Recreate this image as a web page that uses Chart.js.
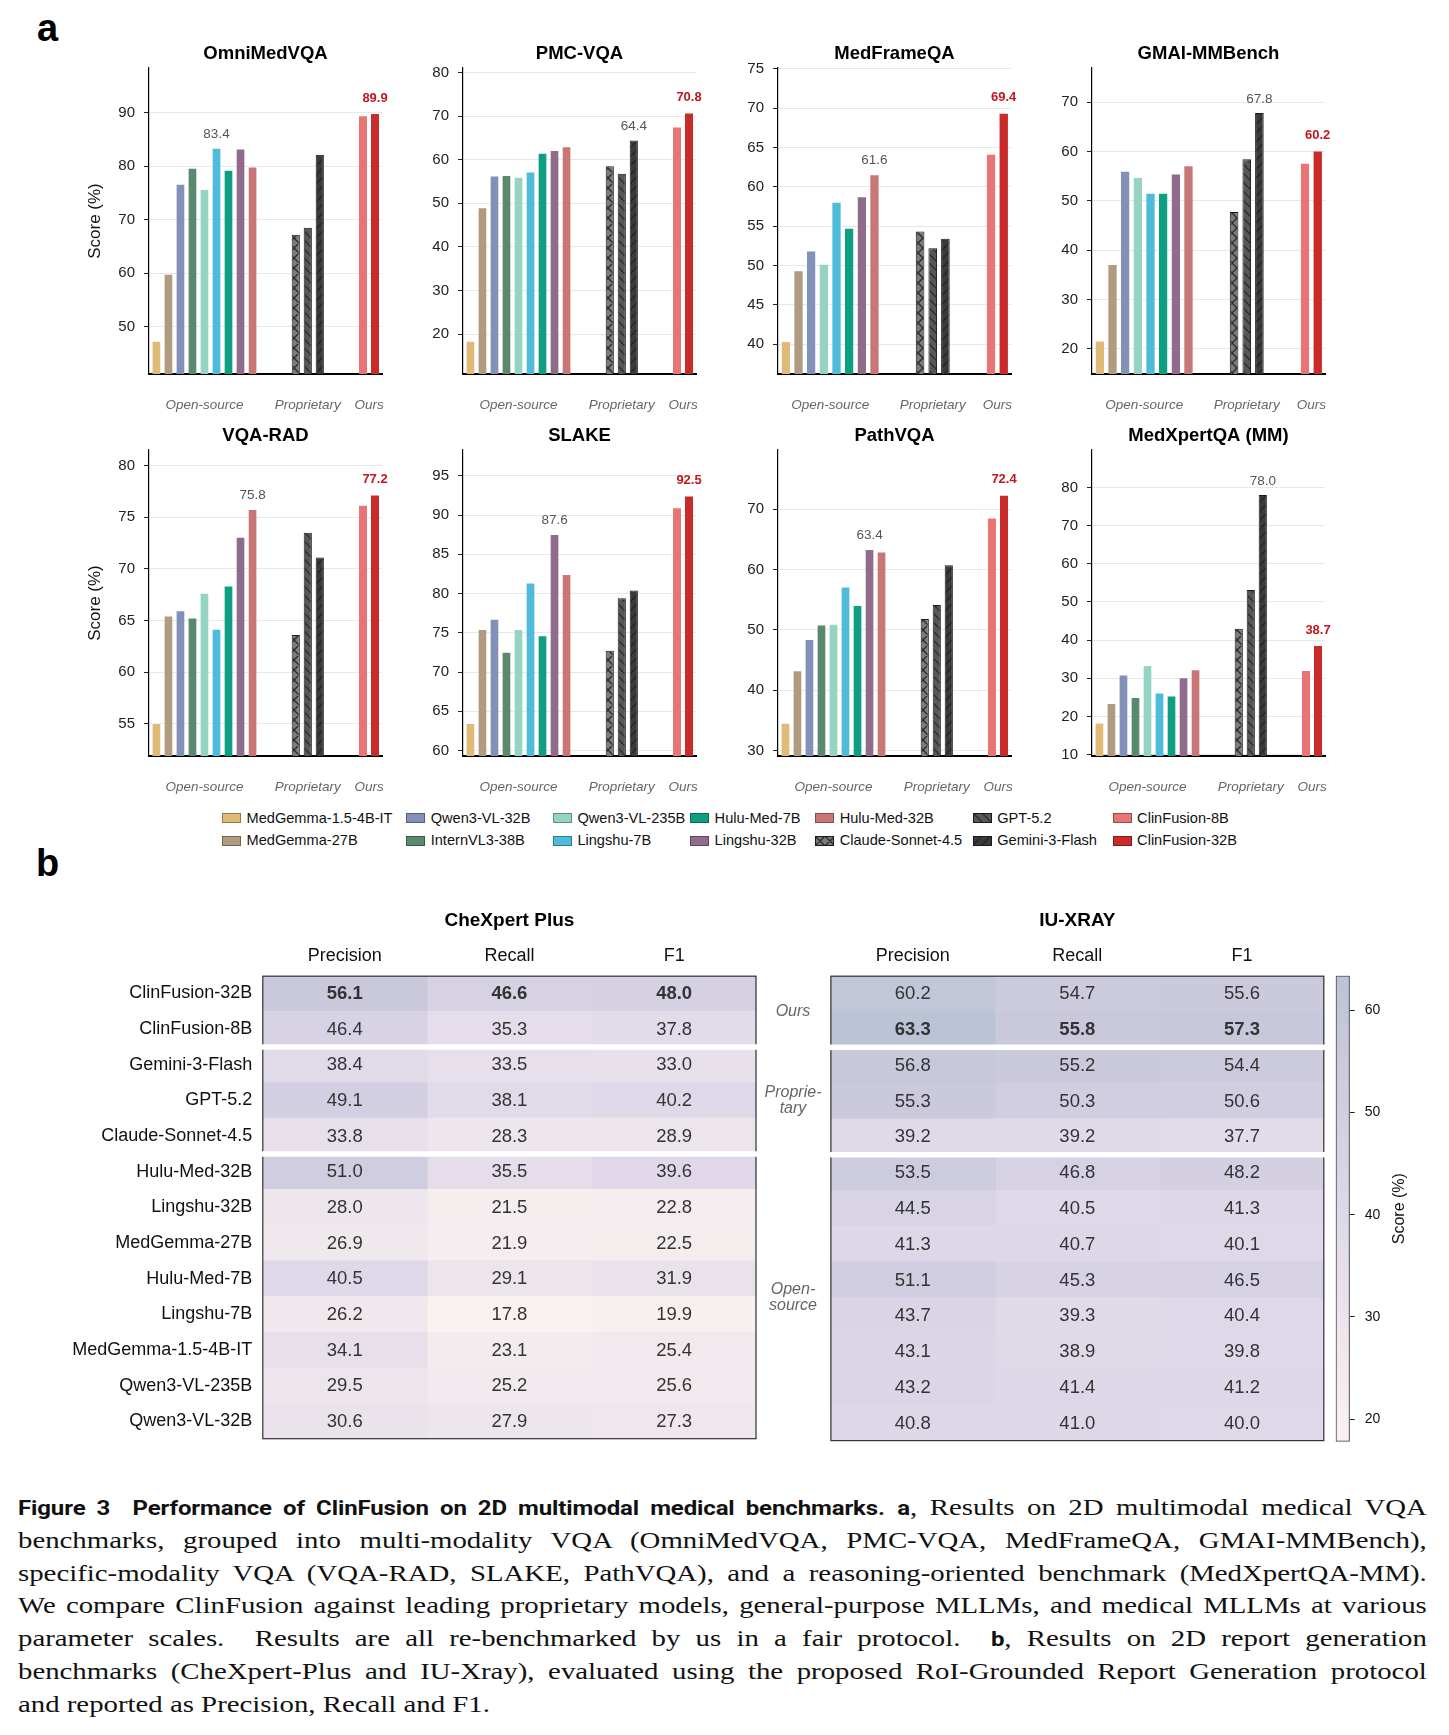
<!DOCTYPE html>
<html><head><meta charset="utf-8">
<script src="https://cdn.jsdelivr.net/npm/chart.js@4.4.1/dist/chart.umd.min.js"></script>
<style>
html,body{margin:0;padding:0;background:#fff;}
body{width:1449px;height:1735px;position:relative;overflow:hidden;font-family:"Liberation Sans",Arial,sans-serif;}
canvas{position:absolute;}
.panel{position:absolute;font-weight:bold;font-size:38px;line-height:38px;color:#000;}
.leg{position:absolute;font-size:14.6px;color:#111;white-space:nowrap;height:17px;}
.leg canvas{position:absolute;left:0;top:3.5px;}
.leg span{position:absolute;left:24.5px;top:0;line-height:17px;}
#caption{position:absolute;left:18px;top:1491px;width:1174px;transform:scaleX(1.2);transform-origin:0 0;font-family:"Liberation Serif",serif;font-size:24px;color:#111;}
#caption div{line-height:32.8px;height:32.8px;text-align:justify;text-align-last:justify;}
#caption div.last{text-align-last:left;}
.sb{font-family:Roboto,"Liberation Sans",sans-serif;font-weight:700;font-size:20px;letter-spacing:-0.1px;}
</style></head>
<body>
<div class="panel" style="left:37px;top:9px;">a</div>
<div class="panel" style="left:36px;top:844px;">b</div>
<div id="legend"></div>
<div id="caption">
<div><span class="sb">Figure 3&nbsp;&nbsp;Performance of ClinFusion on 2D multimodal medical benchmarks.</span> <span class="sb">a</span>, Results on 2D multimodal medical VQA</div>
<div>benchmarks, grouped into multi-modality VQA (OmniMedVQA, PMC-VQA, MedFrameQA, GMAI-MMBench),</div>
<div>specific-modality VQA (VQA-RAD, SLAKE, PathVQA), and a reasoning-oriented benchmark (MedXpertQA-MM).</div>
<div>We compare ClinFusion against leading proprietary models, general-purpose MLLMs, and medical MLLMs at various</div>
<div>parameter scales. &nbsp;Results are all re-benchmarked by us in a fair protocol. &nbsp;<span class="sb">b</span>, Results on 2D report generation</div>
<div>benchmarks (CheXpert-Plus and IU-Xray), evaluated using the proposed RoI-Grounded Report Generation protocol</div>
<div class="last">and reported as Precision, Recall and F1.</div>
</div>
<script>
// ---------------- DATA ----------------
const models = ['MedGemma-1.5-4B-IT','MedGemma-27B','Qwen3-VL-32B','InternVL3-38B','Qwen3-VL-235B','Lingshu-7B','Hulu-Med-7B','Lingshu-32B','Hulu-Med-32B','Claude-Sonnet-4.5','GPT-5.2','Gemini-3-Flash','ClinFusion-8B','ClinFusion-32B'];
const groupNames = ['Open-source','Proprietary','Ours'];
const groupSizes = [9,3,2];
const benchmarks = ['OmniMedVQA','PMC-VQA','MedFrameQA','GMAI-MMBench','VQA-RAD','SLAKE','PathVQA','MedXpertQA (MM)'];

const omniMedVQA = [47.4, 59.9, 76.7, 79.7, 75.7, 83.4, 79.3, 83.3, 79.9, 67.2, 68.5, 82.1, 89.5, 89.9];
const pmcVQA     = [18.5, 49.1, 56.4, 56.5, 56.1, 57.3, 61.6, 62.2, 63.1, 58.5, 56.8, 64.4, 67.6, 70.8];
const medFrameQA = [40.4, 49.4, 51.9, null, 50.2, 58.1, 54.8, 58.8, 61.6, 54.3, 52.2, 53.4, 64.2, 69.4];
const gmaiMMBench= [21.7, 37.2, 56.1, null, 54.8, 51.6, 51.6, 55.5, 57.2, 47.7, 58.4, 67.8, 57.7, 60.2];
const vqaRAD     = [55.1, 65.5, 66.0, 65.3, 67.7, 64.2, 68.4, 73.1, 75.8, 63.6, 73.5, 71.1, 76.2, 77.2];
const slake      = [63.5, 75.5, 76.8, 72.6, 75.5, 81.4, 74.7, 87.6, 82.5, 72.7, 79.4, 80.4, 91.0, 92.5];
const pathVQA    = [34.6, 43.3, 48.5, 50.9, 51.0, 57.2, 54.1, 63.4, 63.0, 51.8, 54.1, 60.7, 68.6, 72.4];
const medXpertQA = [18.4, 23.5, 31.0, 25.1, 33.5, 26.3, 25.5, 30.3, 32.4, 43.0, 53.1, 78.0, 32.2, 38.7];
const benchValues = [omniMedVQA, pmcVQA, medFrameQA, gmaiMMBench, vqaRAD, slake, pathVQA, medXpertQA];

const yMin  = [41.2, 10.9, 36.2, 14.9, 51.9, 59.3, 29.1, 9.65];
const yMax  = [98.3, 81.0, 75.1, 76.9, 81.5, 98.3, 79.8, 89.8];
const yStep = [10, 10, 5, 10, 5, 5, 10, 10];

const tableModels = ['ClinFusion-32B','ClinFusion-8B','Gemini-3-Flash','GPT-5.2','Claude-Sonnet-4.5','Hulu-Med-32B','Lingshu-32B','MedGemma-27B','Hulu-Med-7B','Lingshu-7B','MedGemma-1.5-4B-IT','Qwen3-VL-235B','Qwen3-VL-32B'];
const tableGroupLabels = [['Ours'],['Proprie-','tary'],['Open-','source']];
const tableGroupSizes = [2,3,8];
const metrics = ['Precision','Recall','F1'];
const chexPrecision = [56.1, 46.4, 38.4, 49.1, 33.8, 51.0, 28.0, 26.9, 40.5, 26.2, 34.1, 29.5, 30.6];
const chexRecall    = [46.6, 35.3, 33.5, 38.1, 28.3, 35.5, 21.5, 21.9, 29.1, 17.8, 23.1, 25.2, 27.9];
const chexF1        = [48.0, 37.8, 33.0, 40.2, 28.9, 39.6, 22.8, 22.5, 31.9, 19.9, 25.4, 25.6, 27.3];
const iuPrecision   = [60.2, 63.3, 56.8, 55.3, 39.2, 53.5, 44.5, 41.3, 51.1, 43.7, 43.1, 43.2, 40.8];
const iuRecall      = [54.7, 55.8, 55.2, 50.3, 39.2, 46.8, 40.5, 40.7, 45.3, 39.3, 38.9, 41.4, 41.0];
const iuF1          = [55.6, 57.3, 54.4, 50.6, 37.7, 48.2, 41.3, 40.1, 46.5, 40.4, 39.8, 41.2, 40.0];
const colorbarTicks = [20, 30, 40, 50, 60];
const colorbarMin = 17.8, colorbarMax = 63.4;

// ---------------- STYLE ----------------
const modelColors = ['#E0BB78','#B09A80','#8390B8','#5A8A6E','#95D4C3','#4DBBD9','#0E9F82','#906C8C','#C97676','#7B7B7B','#575757','#3A3A3A','#E97474','#C92A2A'];
const hatchKinds = {9:['x','#7B7B7B','#2A2A2A',10], 10:['\\','#575757','#2C2C2C',9], 11:['/','#3A3A3A','#242424',9]};
const heatStops = [[17.8,[249,242,240]],[30,[236,228,236]],[40,[223,216,232]],[50,[210,206,225]],[56,[202,201,220]],[63.4,[186,196,214]]];
const FONT = '"Liberation Sans", Arial, sans-serif';
Chart.defaults.font.family = FONT;
Chart.defaults.devicePixelRatio = 1;

function makeHatch(kind, base, line, s){
  const c = document.createElement('canvas'); c.width = s; c.height = s;
  const g = c.getContext('2d');
  g.fillStyle = base; g.fillRect(0,0,s,s);
  g.strokeStyle = line; g.lineWidth = 1.3; g.beginPath();
  if (kind==='x' || kind==='\\'){ for (let k=-1;k<=1;k++){ g.moveTo(k*s,0); g.lineTo(k*s+s,s);} }
  if (kind==='x' || kind==='/'){ for (let k=-1;k<=1;k++){ g.moveTo(k*s+s,0); g.lineTo(k*s,s);} }
  g.stroke();
  return g.createPattern(c,'repeat');
}
const modelFills = modelColors.map((c,i)=> hatchKinds[i] ? makeHatch(...hatchKinds[i]) : c);
function groupOf(i){ let acc=0; for (let g=0; g<groupSizes.length; g++){ acc+=groupSizes[g]; if (i<acc) return g; } return groupSizes.length-1; }

function heatColor(v){
  if (v<=heatStops[0][0]) return 'rgb('+heatStops[0][1].join(',')+')';
  for (let i=1;i<heatStops.length;i++){
    if (v<=heatStops[i][0]){
      const [a,ca]=heatStops[i-1],[b,cb]=heatStops[i]; const t=(v-a)/(b-a);
      return 'rgb('+ca.map((x,k)=>Math.round(x+(cb[k]-x)*t)).join(',')+')';
    }
  }
  return 'rgb('+heatStops[heatStops.length-1][1].join(',')+')';
}

function addCanvas(left, top, w, h){
  const c = document.createElement('canvas');
  c.width = w; c.height = h; c.style.left = left+'px'; c.style.top = top+'px';
  c.style.width = w+'px'; c.style.height = h+'px';
  document.body.appendChild(c); return c;
}

// ---------------- BAR PANELS ----------------
const GAP = 3.6;
const axisXs = [149, 463.3, 777.7, 1092];
const plotTops = [68.3, 450];
const PLOT_W = 233, PLOT_H = 306, YW = 65, PADT = 30, PADB = 45, PADR = 12;

benchmarks.forEach((name, b) => {
  const vals = benchValues[b];
  const pts = []; let x = 0; let gStart = 0;
  const groupCenters = [];
  groupSizes.forEach((sz, g) => {
    const xs = [];
    for (let i=gStart; i<gStart+sz; i++){
      if (vals[i]===null || vals[i]===undefined) continue;
      pts.push({x: x, y: vals[i], idx: i}); xs.push(x); x += 1;
    }
    groupCenters.push((xs[0]+xs[xs.length-1])/2);
    x = xs[xs.length-1] + GAP;
    gStart += sz;
  });
  const lastX = pts[pts.length-1].x;
  const col = b % 4, row = Math.floor(b/4);
  const cv = addCanvas(axisXs[col]-YW, plotTops[row]-PADT, YW+PLOT_W+PADR, PADT+PLOT_H+PADB);

  let bestOther=-1, bestOurs=-1;
  pts.forEach((p,k)=>{ const g=groupOf(p.idx);
    if (g<2){ if (bestOther<0 || p.y>pts[bestOther].y) bestOther=k; }
    else { if (bestOurs<0 || p.y>pts[bestOurs].y) bestOurs=k; } });

  const annot = {
    id:'annot'+b,
    afterDatasetsDraw(chart){
      const {ctx, chartArea:ca, scales:{x:xs, y:ys}} = chart;
      ctx.save();
      ctx.textAlign='center'; ctx.textBaseline='middle';
      ctx.fillStyle='#000'; ctx.font='bold 18.5px '+FONT;
      ctx.fillText(name, (ca.left+ca.right)/2, ca.top-14);
      ctx.font='italic 13.5px '+FONT; ctx.fillStyle='#666';
      groupNames.forEach((gn,g)=> ctx.fillText(gn, xs.getPixelForValue(groupCenters[g]), ca.bottom+31));
      const po = pts[bestOther];
      ctx.font='13.5px '+FONT; ctx.fillStyle='#555';
      ctx.fillText(po.y.toFixed(1), xs.getPixelForValue(po.x), ys.getPixelForValue(po.y)-14);
      const pr = pts[bestOurs];
      ctx.font='bold 13px '+FONT; ctx.fillStyle='#C0181E';
      ctx.fillText(pr.y.toFixed(1), xs.getPixelForValue(pr.x), ys.getPixelForValue(pr.y)-15);
      if (col===0){
        ctx.save(); ctx.translate(ca.left-53.6, (ca.top+ca.bottom)/2); ctx.rotate(-Math.PI/2);
        ctx.font='17px '+FONT; ctx.fillStyle='#111'; ctx.fillText('Score (%)',0,0); ctx.restore();
      }
      ctx.restore();
    }
  };

  new Chart(cv, {
    type:'bar',
    data:{datasets:[{
      data: pts.map(p=>({x:p.x, y:p.y})),
      backgroundColor: pts.map(p=>modelFills[p.idx]),
      borderColor: pts.map(p=> groupOf(p.idx)===1 ? '#1A1A1A' : 'rgba(255,255,255,0.55)'),
      borderWidth: pts.map(p=> groupOf(p.idx)===1 ? {top:1,left:1,right:1,bottom:0} : {top:1,left:0,right:0,bottom:0}),
      borderSkipped:'start',
      barPercentage:0.68, categoryPercentage:1
    }]},
    options:{
      responsive:false, animation:false, devicePixelRatio:1,
      layout:{padding:{top:PADT, bottom:PADB, left:0, right:PADR}},
      plugins:{legend:{display:false}, tooltip:{enabled:false}},
      scales:{
        x:{type:'linear', min:-0.62, max:lastX+0.58, offset:false,
           ticks:{display:false}, grid:{display:true, color:'rgba(0,0,0,0)', drawTicks:false},
           border:{display:true, color:'#000', width:2},
           afterFit:s=>{s.height=0;}},
        y:{type:'linear', min:yMin[b], max:yMax[b],
           ticks:{color:'#222', padding:9, font:{size:15}},
           grid:{color:'#E8E8E8', lineWidth:1, tickColor:'#222', tickLength:5, tickWidth:1},
           border:{display:true, color:'#000', width:1.2},
           afterBuildTicks:s=>{
             const st=yStep[b], out=[];
             for (let v=Math.ceil(yMin[b]/st)*st; v<=yMax[b]+1e-9; v+=st) out.push({value:v});
             s.ticks=out;
           },
           afterFit:s=>{s.width=YW;}}
      }
    },
    plugins:[annot]
  });
});

// ---------------- LEGEND ----------------
const legCols = [222, 406.2, 552.9, 690.1, 815.2, 972.7, 1112.6];
const legRows = [818.3, 840.7];
const legendEl = document.getElementById('legend');
models.forEach((m,i)=>{
  const c = Math.floor(i/2), r = i%2;
  const d = document.createElement('div'); d.className='leg';
  d.style.left = legCols[c]+'px'; d.style.top = (legRows[r]-8.5)+'px';
  const sw = document.createElement('canvas'); sw.width=19; sw.height=10;
  sw.style.width='19px'; sw.style.height='10px';
  const g = sw.getContext('2d'); g.fillStyle = modelFills[i]; g.fillRect(0,0,19,10);
  g.strokeStyle = groupOf(i)===1 ? '#1A1A1A' : 'rgba(0,0,0,0.35)'; g.lineWidth=1; g.strokeRect(0.5,0.5,18,9);
  const sp = document.createElement('span'); sp.textContent = m;
  d.appendChild(sw); d.appendChild(sp); legendEl.appendChild(d);
});

// ---------------- HEATMAP TABLES ----------------
const TABLE_TOP = 975.7, ROW_H = 35.8, NROWS = tableModels.length;
function heatTable(opts){
  const {left, width, cellLeft, cellW, values, title, showLabels, showGroups} = opts;
  const top = 900, height = 560;
  const cv = addCanvas(left, top, width, height);
  const ca_top = TABLE_TOP - top, ca_bottom = TABLE_TOP + ROW_H*NROWS - top;
  const yW = cellLeft - left;
  const colMax = values.map(col=>Math.max(...col));
  const plug = {
    id:'heat'+title,
    afterDatasetsDraw(chart){
      const {ctx, chartArea:ca, scales:{x:xs, y:ys}} = chart;
      ctx.save();
      ctx.textAlign='center'; ctx.textBaseline='middle';
      values.forEach((col,c)=>col.forEach((v,r)=>{
        const bold = v===colMax[c];
        ctx.font=(bold?'bold ':'')+'18.5px '+FONT; ctx.fillStyle='#333';
        ctx.fillText(v.toFixed(1), xs.getPixelForValue(c+0.5), ys.getPixelForValue(r)+0.5);
      }));
      ctx.strokeStyle='#333'; ctx.lineWidth=1.2;
      ctx.strokeRect(ca.left+0.5, ca.top+0.5, ca.right-ca.left-1, ca.bottom-ca.top-1);
      let acc=0;
      tableGroupSizes.slice(0,-1).forEach(sz=>{
        acc+=sz;
        const y=(ys.getPixelForValue(acc-1)+ys.getPixelForValue(acc))/2;
        ctx.fillStyle='#fff'; ctx.fillRect(ca.left-2, y-2.75, ca.right-ca.left+4, 5.5);
      });
      ctx.fillStyle='#000'; ctx.font='bold 19px '+FONT;
      ctx.fillText(title, (ca.left+ca.right)/2, ca.top-54.7);
      ctx.font='18px '+FONT; ctx.fillStyle='#111';
      metrics.forEach((m,c)=>ctx.fillText(m, xs.getPixelForValue(c+0.5), ca.top-19.7));
      if (showGroups){
        ctx.font='italic 16px '+FONT; ctx.fillStyle='#666';
        let s=0;
        tableGroupLabels.forEach((lines,g)=>{
          const yc=(ys.getPixelForValue(s)+ys.getPixelForValue(s+tableGroupSizes[g]-1))/2;
          lines.forEach((ln,k)=>ctx.fillText(ln, ca.left-37.4, yc+(k-(lines.length-1)/2)*16));
          s+=tableGroupSizes[g];
        });
      }
      ctx.restore();
    }
  };
  new Chart(cv, {
    type:'bar',
    data:{labels: tableModels,
      datasets: metrics.map((m,c)=>({
        label:m,
        data: tableModels.map(()=>[c, c+1]),
        backgroundColor: values[c].map(v=>heatColor(v)),
        borderWidth:0, grouped:false, barPercentage:1, categoryPercentage:1, inflateAmount:0.5
      }))},
    options:{
      indexAxis:'y', responsive:false, animation:false, devicePixelRatio:1,
      layout:{padding:{top:ca_top, bottom:height-ca_bottom, left:0, right: width-(cellLeft-left)-cellW}},
      plugins:{legend:{display:false}, tooltip:{enabled:false}},
      scales:{
        x:{type:'linear', min:0, max:3, display:false},
        y:{type:'category', display:true, ticks:{display:showLabels, color:'#111', padding:10, font:{size:18}},
           grid:{display:false, drawTicks:false}, border:{display:false},
           afterFit:s=>{s.width=yW;}}
      }
    },
    plugins:[plug]
  });
}
heatTable({left:0, width:770, cellLeft:262.3, cellW:494.2, values:[chexPrecision, chexRecall, chexF1], title:'CheXpert Plus', showLabels:true, showGroups:false});
heatTable({left:740, width:590, cellLeft:830.4, cellW:493.9, values:[iuPrecision, iuRecall, iuF1], title:'IU-XRAY', showLabels:false, showGroups:true});

// ---------------- COLORBAR ----------------
(function(){
  const left=1330, top=900, w=119, h=560;
  const cv = addCanvas(left, top, w, h);
  const caTop = 975.7-top, caBottom = 1442.7-top, caLeft = 1335.7-left, caRight = 1349.7-left;
  const plug = {
    id:'cbar',
    afterDraw(chart){
      const {ctx, chartArea:ca} = chart;
      ctx.save();
      ctx.translate(ca.right+49.6, (ca.top+ca.bottom)/2); ctx.rotate(-Math.PI/2);
      ctx.textAlign='center'; ctx.textBaseline='middle';
      ctx.font='16px '+FONT; ctx.fillStyle='#111'; ctx.fillText('Score (%)',0,0);
      ctx.restore();
    }
  };
  new Chart(cv, {
    type:'bar',
    data:{labels:['Score'], datasets:[{
      data:[[colorbarMin, colorbarMax]],
      backgroundColor:(c)=>{
        const ca=c.chart.chartArea; if(!ca) return '#ddd';
        const g=c.chart.ctx.createLinearGradient(0, ca.bottom, 0, ca.top);
        for(let i=0;i<=30;i++){ const v=colorbarMin+(colorbarMax-colorbarMin)*i/30; g.addColorStop(i/30, heatColor(v)); }
        return g;
      },
      borderColor:'#333', borderWidth:1.2, borderSkipped:false, barPercentage:1, categoryPercentage:1
    }]},
    options:{
      responsive:false, animation:false, devicePixelRatio:1,
      layout:{padding:{top:caTop, bottom:h-caBottom, left:caLeft, right:0}},
      plugins:{legend:{display:false}, tooltip:{enabled:false}},
      scales:{
        x:{display:false},
        y:{position:'right', min:colorbarMin, max:colorbarMax,
           ticks:{color:'#111', padding:10, font:{size:14}},
           grid:{drawOnChartArea:false, tickColor:'#222', tickLength:5, tickWidth:1},
           border:{display:false},
           afterBuildTicks:s=>{ s.ticks = colorbarTicks.map(v=>({value:v})); },
           afterFit:s=>{ s.width = w-caRight; }}
      }
    },
    plugins:[plug]
  });
})();
</script>
</body></html>
